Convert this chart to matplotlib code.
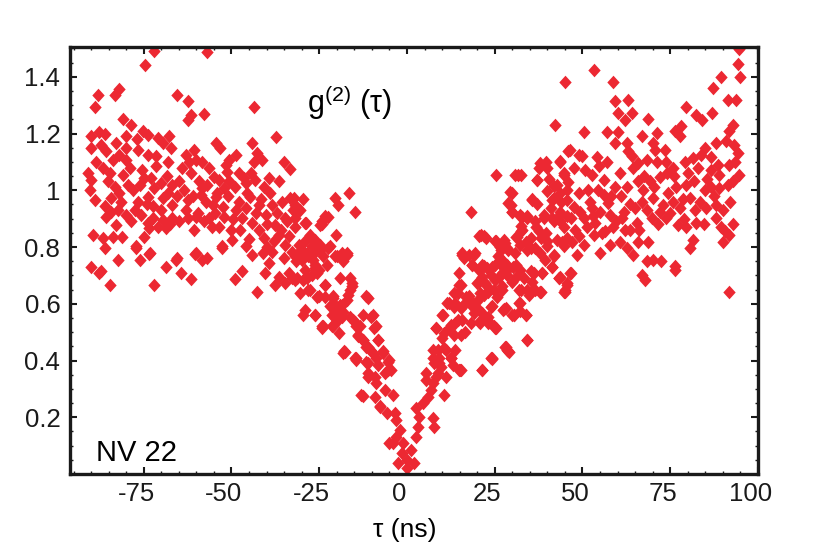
import matplotlib
matplotlib.use("Agg")
import matplotlib.pyplot as plt
from matplotlib.ticker import MultipleLocator
from matplotlib.transforms import ScaledTranslation
import numpy as np

plt.rcParams['font.family'] = ['Liberation Sans', 'DejaVu Sans']
plt.rcParams['mathtext.default'] = 'regular'
plt.rcParams['axes.unicode_minus'] = False

# g2(tau), (tau in ns, g2)
left_wing = [
    (-72.2, 1.49), (-57.1, 1.487), (-74.6, 1.442), (-88.0, 1.337), (-88.8, 1.293), (-83.3, 1.337),
    (-81.9, 1.357), (-65.4, 1.337), (-62.5, 1.315), (-61.6, 1.266), (-62.3, 1.248), (-57.8, 1.27),
    (-43.7, 1.295), (-80.9, 1.252), (-37.3, 1.187), (-44.1, 1.165), (-54.5, 1.166), (-53.4, 1.148),
    (-35.1, 1.101), (-33.3, 1.075),
    (-78.6, 1.231), (-75.3, 1.21), (-73.9, 1.195), (-87.6, 1.207), (-89.9, 1.19), (-80.0, 1.193),
    (-71.0, 1.186), (-67.7, 1.193), (-69.6, 1.166), (-82.8, 1.166), (-67.3, 1.148),
    (-89.9, 1.148), (-85.7, 1.137), (-87.1, 1.16), (-80.0, 1.148), (-76.7, 1.143), (-73.9, 1.125),
    (-83.8, 1.107), (-80.0, 1.107), (-81.9, 1.125), (-71.5, 1.084), (-68.2, 1.101), (-63.0, 1.125),
    (-60.6, 1.143), (-60.2, 1.107), (-62.1, 1.101), (-48.8, 1.125), (-51.7, 1.09), (-50.7, 1.107),
    (-42.7, 1.131), (-43.7, 1.101), (-41.3, 1.107),
    (-90.9, 1.06), (-86.6, 1.078), (-89.9, 1.037), (-85.2, 1.031), (-83.3, 1.013), (-80.9, 1.054),
    (-79.5, 1.019), (-76.2, 1.019), (-74.8, 1.043), (-72.9, 1.043), (-72.0, 1.007), (-70.1, 1.025),
    (-66.8, 1.019), (-64.9, 1.031), (-63.5, 1.0), (-61.6, 1.06), (-59.2, 1.031), (-58.3, 1.007),
    (-56.4, 1.078), (-55.0, 1.048), (-53.6, 1.037), (-51.2, 1.066), (-50.7, 1.031), (-47.9, 1.06),
    (-46.5, 1.043), (-46.0, 1.025), (-43.2, 1.037), (-40.8, 1.013), (-39.4, 1.043), (-36.6, 1.031),
    (-90.4, 1.0), (-89.0, 0.966), (-86.1, 0.943), (-84.2, 0.972), (-78.1, 1.0), (-76.7, 0.96),
    (-73.9, 0.978), (-72.4, 0.943), (-69.6, 0.972), (-68.2, 0.99), (-66.8, 0.949), (-62.5, 0.966),
    (-58.8, 0.984), (-57.3, 0.96), (-55.4, 0.949), (-54.5, 0.978), (-52.1, 1.007), (-47.9, 0.96),
    (-46.0, 0.937), (-44.6, 0.978), (-42.2, 0.949), (-38.5, 0.949), (-35.6, 0.96), (-33.3, 0.972),
    (-31.8, 0.949),
    (-85.7, 0.907), (-84.2, 0.925), (-82.4, 0.931), (-80.0, 0.913), (-77.6, 0.931), (-75.7, 0.913),
    (-73.9, 0.884), (-72.4, 0.901), (-69.6, 0.896), (-66.8, 0.901), (-64.9, 0.89), (-62.5, 0.901),
    (-60.2, 0.907), (-57.8, 0.89), (-56.4, 0.901), (-53.6, 0.872), (-52.1, 0.907), (-48.8, 0.931),
    (-46.9, 0.901), (-44.1, 0.884), (-40.3, 0.913), (-37.5, 0.878), (-34.2, 0.89), (-31.8, 0.901),
    (-82.8, 0.878), (-68.7, 0.866), (-73.4, 0.866),
    (-89.4, 0.843), (-86.6, 0.831), (-86.1, 0.796), (-83.8, 0.837), (-81.1, 0.837), (-77.2, 0.802),
    (-75.0, 0.837), (-73.2, 0.778), (-65.4, 0.76), (-60.2, 0.778), (-56.9, 0.763), (-52.6, 0.802),
    (-49.8, 0.825), (-46.0, 0.802), (-44.1, 0.772), (-42.2, 0.86), (-40.8, 0.831), (-38.5, 0.784),
    (-36.6, 0.843), (-34.7, 0.807), (-32.8, 0.784), (-30.9, 0.807), (-34.7, 0.901),
    (-89.9, 0.731), (-87.3, 0.717), (-82.4, 0.755), (-77.2, 0.796), (-76.2, 0.755), (-73.4, 0.776),
    (-68.7, 0.731), (-65.9, 0.755), (-60.4, 0.776), (-58.3, 0.755), (-52.6, 0.796),
    (-87.6, 0.708), (-84.6, 0.667), (-72.2, 0.667), (-64.4, 0.708), (-61.6, 0.687), (-48.9, 0.687),
    (-42.7, 0.643), (-47.0, 0.714), (-40.4, 0.708), (-37.5, 0.667), (-34.7, 0.673), (-36.6, 0.696),
    (-33.7, 0.708), (-31.9, 0.684), (-39.4, 0.743), (-32.8, 0.69),
    (-88.5, 1.1), (-86.0, 1.2), (-84.5, 1.06), (-82.0, 0.99), (-79.0, 1.08), (-77.0, 1.18),
    (-75.5, 1.07), (-74.0, 0.95), (-71.5, 1.12), (-70.0, 0.93), (-68.5, 1.05), (-67.5, 0.88),
    (-65.5, 0.98), (-64.0, 1.08), (-63.0, 0.93), (-61.0, 0.98), (-59.5, 0.92), (-58.5, 1.1),
    (-57.0, 1.02), (-55.5, 0.87), (-54.0, 0.99), (-52.5, 0.94), (-51.0, 0.98), (-49.5, 0.9),
    (-49.0, 1.01), (-47.5, 0.86), (-45.5, 0.99), (-44.5, 1.06), (-43.0, 0.92), (-41.5, 0.97),
    (-40.0, 0.88), (-39.0, 0.99), (-38.0, 0.82), (-37.0, 0.92), (-36.0, 0.86), (-35.0, 0.76),
    (-33.5, 0.84), (-32.5, 0.93), (-31.5, 0.75), (-81.5, 0.96), (-78.5, 0.89), (-71.0, 0.87),
    (-60.8, 0.86), (-54.8, 0.92), (-50.0, 0.86), (-45.0, 0.83), (-41.0, 0.78), (-39.8, 0.8),
]

dip = [
    (-29.5, 0.969), (-30.4, 0.93), (-20.5, 0.972), (-19.6, 0.949), (-16.5, 0.99), (-14.9, 0.925),
    (-28.8, 0.884), (-24.3, 0.882), (-22.4, 0.907), (-20.2, 0.843), (-27.6, 0.837), (-25.7, 0.813),
    (-24.8, 0.79), (-26.7, 0.755), (-28.5, 0.778), (-29.9, 0.79), (-22.0, 0.802), (-20.0, 0.767),
    (-18.2, 0.773), (-17.2, 0.779), (-22.9, 0.737), (-25.7, 0.708), (-26.2, 0.725), (-29.5, 0.685),
    (-31.4, 0.69), (-19.1, 0.69), (-15.8, 0.673), (-16.2, 0.649), (-23.4, 0.667), (-27.6, 0.649),
    (-25.2, 0.626), (-21.1, 0.626), (-19.1, 0.597), (-22.0, 0.591), (-11.6, 0.626), (-17.2, 0.614),
    (-26.2, 0.561), (-29.5, 0.561), (-21.5, 0.561), (-19.6, 0.579), (-23.9, 0.52), (-21.3, 0.52),
    (-19.4, 0.496), (-15.4, 0.543), (-12.6, 0.561), (-9.8, 0.561), (-14.4, 0.52), (-14.0, 0.485),
    (-9.4, 0.514), (-12.6, 0.473), (-11.6, 0.449), (-8.2, 0.473), (-17.9, 0.432), (-14.5, 0.408),
    (-10.2, 0.432), (-6.9, 0.432), (-11.2, 0.391), (-8.7, 0.408), (-5.1, 0.402), (-5.4, 0.367),
    (-11.2, 0.343), (-8.7, 0.32), (-6.4, 0.296), (-4.0, 0.279), (-12.6, 0.276), (-9.1, 0.273),
    (-7.7, 0.238), (-5.8, 0.214), (-3.5, 0.214), (-3.0, 0.19), (-2.1, 0.155), (-4.0, 0.108),
    (-3.0, 0.132), (-1.1, 0.108), (-1.5, 0.073), (0.0, 0.05), (0.0, 0.02), (1.2, 0.085), (2.1, 0.038),
    (-29.0, 0.578), (-24.3, 0.52), (-18.6, 0.555), (-18.2, 0.426), (-14.9, 0.408), (-13.0, 0.279),
    (-11.1, 0.62), (-7.8, 0.237), (-5.0, 0.108), (-2.6, 0.038),
    (2.6, 0.132), (3.1, 0.167), (3.5, 0.202), (2.6, 0.232), (4.5, 0.25), (5.9, 0.273), (6.8, 0.296),
    (5.4, 0.332), (7.3, 0.32), (7.8, 0.167), (7.3, 0.196), (10.6, 0.279), (8.2, 0.343), (7.3, 0.408),
    (9.2, 0.39), (11.0, 0.343), (8.7, 0.437), (10.6, 0.443), (12.4, 0.408), (13.8, 0.437),
    (14.8, 0.367), (10.1, 0.478), (8.2, 0.514), (10.1, 0.561), (12.0, 0.514), (13.8, 0.531),
    (15.7, 0.543), (16.6, 0.502), (11.5, 0.602), (13.4, 0.638), (14.8, 0.667), (13.8, 0.602),
    (16.6, 0.602), (17.6, 0.626), (18.5, 0.591), (14.8, 0.708), (15.7, 0.773), (17.6, 0.773),
    (19.4, 0.779), (18.5, 0.737), (20.4, 0.72), (21.8, 0.732), (19.9, 0.673), (20.8, 0.638),
    (22.2, 0.673), (23.2, 0.643), (25.1, 0.685), (24.1, 0.591), (21.3, 0.567), (20.8, 0.531),
    (23.2, 0.531), (25.1, 0.514), (21.3, 0.367), (24.1, 0.408), (27.9, 0.449), (28.8, 0.432),
    (18.2, 0.925), (20.5, 0.84), (21.8, 0.84), (25.5, 1.054), (30.7, 1.054), (31.7, 1.054),
    (29.3, 0.993), (28.9, 0.955), (29.8, 0.925), (32.2, 0.908), (25.1, 0.82), (26.5, 0.8),
    (27.9, 0.814), (26.0, 0.767), (27.4, 0.749), (28.9, 0.79), (30.7, 0.779), (31.2, 0.837),
    (32.6, 0.873), (30.3, 0.731), (28.4, 0.72), (25.1, 0.737), (27.0, 0.708), (31.2, 0.696),
    (32.6, 0.649), (27.4, 0.579), (29.8, 0.561), (32.2, 0.573), (23.2, 0.555), (27.0, 0.649),
    (28.6, 0.437), (24.1, 0.405), (15.2, 0.367), (30.5, 0.561), (27.6, 0.581), (31.9, 0.602),
    (24.8, 0.52), (22.9, 0.543), (19.1, 0.591),
]

# second, closer reading of the two branches of the dip
dip_extra = [
    (-32.3, 0.972), (-30.9, 0.931), (-23.4, 0.908), (-24.3, 0.89), (-24.8, 0.878), (-29.0, 0.884),
    (-31.9, 0.872), (-27.6, 0.843), (-26.2, 0.825), (-24.8, 0.808), (-27.1, 0.802), (-29.0, 0.82),
    (-30.9, 0.784), (-30.0, 0.755), (-28.1, 0.767), (-26.2, 0.784), (-23.8, 0.767), (-22.4, 0.796),
    (-20.5, 0.767), (-18.6, 0.778), (-17.2, 0.772), (-18.2, 0.749), (-31.9, 0.767), (-26.2, 0.737),
    (-25.2, 0.72), (-27.1, 0.702), (-29.0, 0.72), (-28.5, 0.69), (-23.4, 0.667), (-16.3, 0.69),
    (-15.8, 0.661), (-16.8, 0.631), (-30.4, 0.637), (-28.1, 0.649), (-25.7, 0.625), (-23.4, 0.625),
    (-21.0, 0.62), (-20.5, 0.596), (-18.6, 0.596), (-18.2, 0.572), (-26.2, 0.561), (-19.6, 0.543),
    (-16.3, 0.555), (-14.9, 0.537), (-13.4, 0.52), (-13.9, 0.49), (-12.5, 0.473), (-11.1, 0.449),
    (-10.2, 0.555), (-8.7, 0.52), (-8.3, 0.473), (-24.3, 0.514), (-21.0, 0.52), (-17.7, 0.431),
    (-14.4, 0.402), (-11.6, 0.396), (-9.7, 0.425), (-8.3, 0.384), (-6.8, 0.425), (-5.4, 0.396),
    (-4.5, 0.367), (-6.4, 0.355), (-11.1, 0.355), (-9.2, 0.343),
    (43.7, 1.102), (46.0, 1.137), (38.0, 1.096), (39.9, 1.078), (37.1, 1.037), (41.8, 1.014),
    (43.7, 0.99), (44.6, 1.055), (45.6, 0.967), (41.3, 0.967), (39.9, 0.996), (30.0, 0.99),
    (35.7, 0.967), (29.5, 0.949), (30.0, 0.925), (32.3, 0.914), (34.2, 0.908), (36.6, 0.89),
    (38.9, 0.914), (41.3, 0.902), (43.7, 0.89), (45.6, 0.908), (32.8, 0.861), (31.4, 0.837),
    (21.0, 0.843), (22.4, 0.831), (35.2, 0.831), (37.5, 0.855), (39.9, 0.82), (42.7, 0.826),
    (45.6, 0.831), (25.3, 0.82), (27.6, 0.826), (26.7, 0.79), (28.6, 0.796), (32.3, 0.808),
    (34.2, 0.79), (36.6, 0.796), (38.0, 0.778), (39.4, 0.755), (41.8, 0.767), (44.6, 0.802),
    (15.8, 0.778), (16.3, 0.761), (19.1, 0.773), (18.6, 0.737), (21.5, 0.737), (22.9, 0.726),
    (24.3, 0.731), (26.7, 0.737), (28.6, 0.737), (31.0, 0.737), (32.3, 0.72), (21.5, 0.696),
    (23.8, 0.702), (26.2, 0.696), (28.6, 0.702), (30.0, 0.678), (35.2, 0.714), (38.5, 0.708),
    (41.3, 0.731), (15.4, 0.667), (14.4, 0.637), (20.5, 0.678), (22.9, 0.661), (24.8, 0.649),
    (27.1, 0.661), (31.9, 0.649), (34.2, 0.649), (36.6, 0.649), (38.0, 0.643), (43.7, 0.696),
    (45.6, 0.673), (45.1, 0.649), (12.0, 0.602), (13.5, 0.59), (16.8, 0.625), (18.2, 0.608),
    (20.1, 0.614), (22.0, 0.631), (23.8, 0.59), (25.7, 0.625), (32.3, 0.602), (28.1, 0.584),
    (30.5, 0.561), (33.8, 0.561), (10.2, 0.561), (15.4, 0.584), (19.1, 0.567), (20.5, 0.579),
    (8.3, 0.514), (12.5, 0.526), (14.4, 0.543), (18.2, 0.531), (20.5, 0.537), (23.4, 0.537),
    (25.3, 0.514), (34.2, 0.473), (10.6, 0.496), (13.5, 0.49), (15.4, 0.49), (28.1, 0.449),
    (29.0, 0.431), (7.3, 0.437), (9.2, 0.408), (11.1, 0.437), (12.5, 0.408), (13.0, 0.384),
    (9.7, 0.378), (7.8, 0.39), (23.8, 0.408), (21.5, 0.367), (5.4, 0.355), (8.7, 0.355),
    (15.4, 0.367),
]

right_wing = [
    (94.7, 1.499), (94.2, 1.445), (94.9, 1.398), (89.5, 1.401), (87.2, 1.36), (53.2, 1.425),
    (45.0, 1.38), (58.6, 1.38), (42.3, 1.231), (50.3, 1.207), (59.3, 1.315), (63.1, 1.319),
    (60.2, 1.272), (62.1, 1.248), (64.0, 1.272), (68.7, 1.252), (79.6, 1.295), (82.4, 1.266),
    (84.1, 1.248), (87.0, 1.272), (91.4, 1.319), (93.8, 1.319), (92.8, 1.231), (91.7, 1.21),
    (57.1, 1.207), (60.2, 1.205), (59.3, 1.166), (62.6, 1.166), (63.1, 1.137), (76.3, 1.21),
    (78.2, 1.225), (77.7, 1.19), (66.9, 1.19), (71.1, 1.201), (70.2, 1.166), (88.1, 1.166),
    (91.0, 1.172), (93.3, 1.16), (94.2, 1.131), (46.4, 1.143), (48.9, 1.125), (43.7, 1.101),
    (39.5, 1.101), (37.6, 1.078), (36.9, 1.037), (32.4, 1.054), (47.5, 1.078), (50.8, 1.072),
    (52.7, 1.054), (54.6, 1.084), (44.7, 1.06), (54.1, 1.119), (60.7, 1.06), (64.5, 1.078),
    (65.9, 1.096), (68.3, 1.107), (70.6, 1.143), (73.5, 1.143), (71.1, 1.101), (73.9, 1.101),
    (75.8, 1.078), (79.1, 1.101), (81.5, 1.113), (83.8, 1.125), (86.7, 1.119), (86.7, 1.072),
    (89.0, 1.054), (91.8, 1.09), (94.7, 1.054), (92.8, 1.031), (91.4, 1.019), (89.0, 1.007),
    (42.8, 1.019), (45.6, 1.0), (48.9, 0.99), (41.8, 0.972), (35.5, 0.97), (40.9, 0.937),
    (43.7, 0.925), (42.8, 0.901), (56.0, 1.037), (59.3, 1.013), (62.6, 1.013), (65.9, 1.031),
    (67.3, 1.0), (69.2, 1.031), (72.0, 1.048), (76.7, 1.013), (79.6, 1.019), (81.9, 1.031),
    (84.8, 1.0), (86.7, 1.013), (52.2, 0.96), (56.0, 0.984), (57.4, 0.954), (52.7, 0.937),
    (49.4, 0.925), (50.3, 0.901), (55.1, 0.925), (57.9, 0.913), (61.7, 0.925), (65.0, 0.937),
    (66.9, 0.96), (70.2, 0.972), (72.9, 0.949), (75.8, 0.96), (77.7, 0.937), (80.6, 0.972),
    (83.4, 0.96), (85.3, 0.937), (88.1, 0.949), (32.9, 0.907), (34.3, 0.901), (36.7, 0.872),
    (39.0, 0.901), (41.8, 0.89), (44.7, 0.872), (46.6, 0.901), (48.0, 0.86), (51.3, 0.872),
    (53.6, 0.884), (56.5, 0.855), (58.8, 0.872), (61.2, 0.901), (63.6, 0.86), (65.4, 0.884),
    (69.7, 0.901), (72.0, 0.925), (73.9, 0.901), (77.2, 0.878), (79.6, 0.872), (82.4, 0.884),
    (88.1, 0.901), (89.5, 0.872), (90.5, 0.855), (32.4, 0.855), (33.8, 0.819), (35.2, 0.796),
    (38.1, 0.831), (40.0, 0.802), (41.8, 0.772), (44.2, 0.819), (47.0, 0.819), (48.5, 0.772),
    (50.3, 0.807), (53.2, 0.843), (55.1, 0.778), (57.9, 0.807), (60.7, 0.819), (62.6, 0.796),
    (64.5, 0.772), (65.9, 0.819), (68.7, 0.819), (80.6, 0.796), (81.5, 0.825), (90.0, 0.819),
    (91.8, 0.843), (68.3, 0.749), (70.2, 0.755), (72.5, 0.749), (66.9, 0.702), (67.8, 0.684),
    (76.3, 0.734), (91.7, 0.643), (41.4, 0.731), (36.2, 0.707), (38.5, 0.707), (43.3, 0.69),
    (45.1, 0.643), (46.6, 0.707), (35.2, 0.643), (38.1, 0.643), (33.3, 0.69),
    (34.2, 0.473), (33.8, 0.561), (38.0, 0.643), (34.7, 0.632), (44.6, 0.643), (45.6, 0.667),
    (43.2, 0.69), (46.5, 0.708), (35.7, 0.678), (76.3, 0.72),
    (37.0, 0.95), (39.5, 0.85), (40.5, 1.04), (44.0, 0.96), (46.0, 1.03), (47.5, 0.94),
    (49.0, 0.84), (51.5, 1.0), (53.0, 0.91), (54.5, 1.0), (55.5, 0.85), (58.0, 0.98),
    (59.5, 0.89), (61.0, 0.98), (62.0, 0.86), (63.5, 0.95), (66.0, 0.86), (67.5, 1.05),
    (68.5, 0.93), (70.5, 1.01), (71.5, 0.88), (74.5, 0.99), (75.0, 0.92), (76.0, 1.05),
    (78.5, 0.97), (78.8, 0.9), (80.0, 1.06), (82.0, 0.93), (83.0, 1.08), (84.5, 0.88),
    (85.5, 1.04), (87.5, 0.98), (88.5, 1.09), (90.0, 0.93), (92.0, 0.96), (93.5, 1.1),
    (93.0, 0.88), (85.0, 1.15), (74.0, 1.06), (64.0, 1.12), (57.0, 1.1), (50.0, 1.12),
]

x_ticks = [-75, -50, -25, 0, 25, 50, 75, 100]
y_ticks = [0.2, 0.4, 0.6, 0.8, 1.0, 1.2, 1.4]
y_ticklabels = ["0.2", "0.4", "0.6", "0.8", "1", "1.2", "1.4"]

fig = plt.figure(figsize=(8.18, 5.57), dpi=100)
ax = fig.add_axes([70 / 818, 1 - 474 / 557, 688 / 818, 427 / 557])

red = '#EC2832'
# slightly tall diamond like the original marker
diamond = [(0, 1.1), (1, 0), (0, -1.1), (-1, 0), (0, 1.1)]
for pts in (left_wing, dip, dip_extra, right_wing):
    arr = np.array(pts)
    ax.plot(arr[:, 0], arr[:, 1], linestyle='none', marker=diamond, color=red, ms=9.8, mew=0)

ax.set_xlim(-96, 100)
ax.set_ylim(0, 1.505)
ax.set_xticks(x_ticks)
ax.set_yticks(y_ticks)
ax.set_yticklabels(y_ticklabels)
ax.xaxis.set_minor_locator(MultipleLocator(5))
ax.yaxis.set_minor_locator(MultipleLocator(0.05))
ax.tick_params(which='both', direction='in', top=True, right=True, width=1.5,
               labelsize=18.5, colors='#1a1a1a')
ax.tick_params(which='major', length=5)
ax.tick_params(which='minor', length=2.5, width=1)
ax.tick_params(axis='x', pad=6)
ax.tick_params(axis='y', pad=7)
for s in ax.spines.values():
    s.set_linewidth(2.4)
    s.set_color('#1a1a1a')

# x tick labels sit a bit left of their ticks in the original
shift = ScaledTranslation(-0.075, 0, fig.dpi_scale_trans)
for lab in ax.get_xticklabels():
    lab.set_transform(lab.get_transform() + shift)

ax.set_xlabel('τ (ns)', fontsize=19)
ax.xaxis.set_label_coords(0.487, -0.102)
ax.text(0.344, 0.845, 'g$^{(2)}$ (τ)', transform=ax.transAxes, fontsize=22)
ax.text(0.038, 0.03, 'NV 22', transform=ax.transAxes, fontsize=21)

fig.savefig('out.png', dpi=100)
